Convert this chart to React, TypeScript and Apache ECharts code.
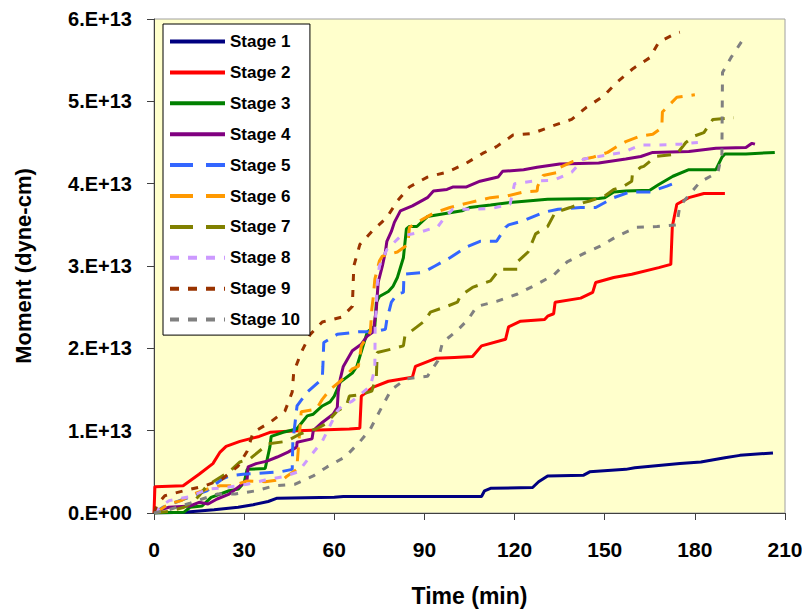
import React, { useEffect, useRef } from "react";
import * as echarts from "echarts";

// Time (min), Moment (×1e13 dyne-cm)
const stage1 = [[0,0],[10,0.01],[20,0.04],[28,0.07],[33,0.1],[38,0.14],[41,0.18],[60,0.19],[63,0.2],[109,0.2],[110,0.27],[112,0.3],[126,0.31],[128,0.38],[131,0.45],[143,0.46],[145,0.5],[157,0.53],[160,0.55],[175,0.6],[182,0.62],[190,0.67],[195,0.7],[206,0.73]];
const stage2 = [[0,0],[0.3,0.32],[9.7,0.33],[15,0.47],[19.6,0.6],[22,0.74],[24,0.81],[28.6,0.87],[35,0.93],[38.6,0.98],[47.6,1.0],[65,1.02],[68.5,1.03],[69,1.42],[73,1.53],[78,1.6],[86,1.65],[87,1.78],[94,1.88],[100,1.89],[106,1.9],[109,2.03],[117,2.11],[118,2.26],[122,2.33],[130,2.35],[131,2.39],[133,2.42],[133.5,2.56],[142,2.61],[146,2.68],[147,2.8],[153,2.86],[159,2.9],[168,2.98],[172,3.02],[172.5,3.48],[174,3.75],[178,3.83],[183,3.88],[190,3.88]];
const stage3 = [[0,0],[10,0.01],[12,0.07],[16,0.085],[19,0.19],[25,0.27],[28,0.29],[30,0.37],[31,0.53],[37,0.54],[38.6,0.81],[39,0.93],[43,0.98],[47.5,1.02],[51,1.18],[53,1.2],[56,1.3],[58.6,1.35],[60,1.42],[62,1.59],[66,1.7],[67.5,1.78],[68.5,1.9],[71,2.2],[73.5,2.27],[74,2.56],[75,2.63],[78,2.69],[79.5,2.75],[81,2.86],[83,3.1],[84,3.45],[85,3.48],[87.5,3.48],[91,3.6],[97.5,3.64],[102.5,3.67],[105,3.71],[112,3.74],[118.5,3.77],[131,3.81],[148,3.82],[150,3.83],[153,3.9],[157,3.91],[165,3.92],[168,3.99],[172.7,4.09],[178,4.17],[187,4.17],[189,4.32],[190,4.36],[197,4.36],[206.6,4.38]];
const stage4 = [[0,0],[2,0.04],[5,0.07],[12,0.085],[15,0.13],[18,0.11],[21,0.17],[25,0.23],[28.6,0.33],[31,0.41],[31.3,0.56],[34,0.6],[37.6,0.63],[41,0.68],[44.6,0.74],[47.5,0.8],[47.6,0.86],[52.6,0.9],[53,1.0],[56,1.1],[59.6,1.2],[61,1.28],[61.3,1.47],[62,1.63],[63,1.78],[66,1.97],[69,2.05],[71,2.15],[73,2.2],[73.5,2.35],[74,2.48],[74.6,2.8],[76,3.0],[77,3.17],[77.5,3.3],[79,3.42],[80,3.53],[82,3.67],[86,3.73],[91,3.83],[93,3.91],[97.5,3.93],[99.6,3.96],[104,3.96],[108.5,4.03],[114.5,4.08],[116,4.15],[123,4.17],[127.5,4.2],[135,4.24],[148,4.25],[157,4.3],[162,4.33],[166,4.38],[178,4.39],[187,4.43],[197,4.44],[199,4.49],[200,4.48]];
const stage5 = [[0,0],[3,0.07],[10,0.17],[13,0.21],[17.6,0.27],[22.6,0.41],[25,0.45],[29.6,0.47],[42,0.5],[46,0.53],[46.2,0.86],[47.6,1.3],[51,1.47],[56,1.63],[56.2,1.78],[56.5,2.07],[61,2.17],[68,2.2],[73,2.2],[77,2.23],[77.5,2.35],[79,2.56],[81,2.66],[83,2.68],[83.2,2.9],[89.5,2.92],[93.5,3.0],[98.5,3.1],[104,3.23],[108.5,3.3],[114,3.3],[117,3.47],[118,3.5],[123,3.55],[129.5,3.65],[134.5,3.69],[142,3.71],[147,3.71],[153,3.83],[158.4,3.9],[165,3.9],[170.7,3.97],[175,4.03]];
const stage6 = [[0,0],[2,0.04],[5,0.11],[9,0.15],[13,0.23],[17.6,0.29],[22,0.33],[26,0.33],[31,0.39],[37,0.38],[43,0.41],[44,0.44],[47.5,0.53],[48.5,1.0],[49,1.23],[54,1.26],[56,1.38],[58.6,1.5],[62,1.6],[66,1.75],[68,1.78],[69,2.03],[72,2.2],[72.5,2.48],[73,2.63],[73.5,2.84],[75,3.06],[76,3.12],[81,3.17],[84.5,3.26],[85,3.47],[89.5,3.57],[93.5,3.65],[98.5,3.71],[105,3.77],[112,3.83],[117.5,3.85],[123,3.9],[127.5,3.91],[127.7,3.97],[129.5,4.1],[135,4.14],[135.2,4.2],[139.5,4.27],[146,4.32],[151,4.38],[154,4.45],[157,4.51],[162,4.58],[166,4.6],[169,4.68],[169.2,4.87],[174,5.05],[180,5.08]];
const stage7 = [[0,0],[5,0.02],[10,0.07],[13,0.13],[15,0.21],[17.6,0.33],[21,0.41],[25,0.5],[28.6,0.62],[32,0.66],[33,0.69],[38,0.84],[44,0.87],[48.6,0.96],[52,1.0],[54,1.02],[57,1.08],[61,1.24],[64,1.3],[65,1.42],[69,1.44],[72.5,1.48],[74,1.66],[74.3,1.95],[79,1.99],[83,2.03],[83.5,2.15],[87.5,2.26],[90,2.33],[92,2.44],[97.5,2.51],[101,2.56],[102,2.64],[106,2.74],[112,2.82],[115,2.96],[121,2.96],[121.2,3.06],[124.5,3.17],[127,3.39],[131,3.48],[133.5,3.65],[138.5,3.71],[143,3.77],[145,3.79],[150,3.85],[153,3.93],[156,3.96],[159,4.03],[159.2,4.11],[162,4.2],[163,4.21],[167,4.33],[174,4.36],[177,4.5],[180,4.58],[183,4.62],[186,4.78],[193,4.8]];
const stage8 = [[0,0],[3,0.1],[5,0.15],[12,0.2],[18,0.29],[24,0.31],[31,0.35],[37,0.4],[43,0.44],[48,0.5],[52,0.69],[56,0.87],[61,1.24],[62.5,1.3],[66,1.36],[72,1.54],[73.5,1.75],[73.6,2.27],[74,2.51],[74.2,2.75],[75,3.0],[77.5,3.2],[82,3.36],[88.5,3.41],[94.5,3.48],[97,3.6],[99.5,3.69],[106,3.69],[112.5,3.7],[118.5,3.75],[120,4.0],[126,4.03],[133,4.04],[139,4.14],[143,4.3],[148,4.33],[156,4.38],[162,4.47],[168,4.47],[175,4.48],[181,4.5]];
const stage9 = [[0,0],[1,0.1],[3.6,0.21],[10,0.27],[17,0.33],[22.6,0.41],[28,0.57],[31,0.75],[33,0.98],[38.6,1.1],[43.6,1.24],[46,1.47],[46.5,1.71],[49,1.95],[52,2.17],[56,2.32],[62.5,2.38],[66,2.51],[66.3,2.8],[66.5,3.0],[68.5,3.26],[72.5,3.42],[77.5,3.59],[81,3.79],[85,3.96],[91,4.08],[97.5,4.14],[103.5,4.24],[109.5,4.37],[114,4.45],[119.5,4.59],[126,4.61],[132.5,4.7],[139,4.78],[144,4.93],[149.5,5.06],[154,5.23],[159.5,5.4],[165,5.53],[168,5.72],[174,5.83],[175,5.84]];
const stage10 = [[0,0],[5,0.04],[12,0.12],[21,0.23],[27,0.23],[34,0.27],[40,0.33],[47,0.35],[53,0.45],[57.6,0.56],[63.6,0.68],[68.6,0.87],[72,1.02],[76,1.3],[79,1.5],[84,1.63],[91,1.66],[94.5,1.85],[96,2.07],[101,2.22],[104.5,2.35],[107.5,2.51],[114,2.57],[121,2.66],[127,2.77],[133,2.89],[137.5,3.05],[143.5,3.16],[148.5,3.24],[154,3.36],[160.7,3.47],[167.4,3.48],[174,3.5],[175,3.73],[181.7,4.02],[187.7,4.14],[189,4.36],[189.2,5.35],[192,5.53],[196,5.75]];

const seriesNames = ["Stage 1","Stage 2","Stage 3","Stage 4","Stage 5","Stage 6","Stage 7","Stage 8","Stage 9","Stage 10"];
const seriesData = [stage1, stage2, stage3, stage4, stage5, stage6, stage7, stage8, stage9, stage10];

const colors = ["#000080","#FF0000","#008000","#800080","#3366FF","#FF9900","#808000","#CC99FF","#993300","#808080"];
const dashes: any[] = ["solid","solid","solid","solid",[14,9],[14,9],[14,9],[7,9],[7,9],[7,9]];
const legendDashes: any[] = ["solid","solid","solid","solid",[23,13],[23,13],[23,13],[9,9],[9,9],[9,9]];

const FONT = "'Liberation Sans', Arial, sans-serif";

export default function App() {
  const ref = useRef<HTMLDivElement>(null);
  useEffect(() => {
    if (!ref.current) return;
    const chart = echarts.init(ref.current, null, { renderer: "svg" });
    chart.setOption({
      animation: false,
      backgroundColor: "#ffffff",
      grid: {
        left: 154, right: 25, top: 19, bottom: 98,
        show: true, backgroundColor: "#FFFFCC", borderColor: "#A0A0A0", borderWidth: 1,
      },
      legend: {
        orient: "vertical",
        left: 163, top: 24,
        itemWidth: 55, itemHeight: 14, itemGap: 13.9,
        padding: [9, 10, 7, 5],
        backgroundColor: "#ffffff", borderColor: "#000000", borderWidth: 1,
        itemStyle: { opacity: 0 },
        textStyle: { fontFamily: FONT, fontSize: 17, fontWeight: "bold", color: "#000" },
        data: seriesNames.map((n, i) => ({
          name: n,
          lineStyle: { width: 4, type: legendDashes[i], color: colors[i] },
        })),
      },
      xAxis: {
        type: "value", min: 0, max: 210, interval: 30,
        name: "Time (min)", nameLocation: "middle", nameGap: 71,
        nameTextStyle: { fontFamily: FONT, fontSize: 23, fontWeight: "bold", color: "#000" },
        axisLine: { onZero: false, lineStyle: { color: "#404040", width: 1 } },
        axisTick: { show: true, length: 7, lineStyle: { color: "#404040" } },
        axisLabel: { margin: 26, fontFamily: FONT, fontSize: 21, fontWeight: "bold", color: "#000" },
        splitLine: { show: false },
      },
      yAxis: {
        type: "value", min: 0, max: 6, interval: 1,
        name: "Moment (dyne-cm)", nameLocation: "middle", nameGap: 120, nameRotate: 90,
        nameTextStyle: { fontFamily: FONT, fontSize: 22, fontWeight: "bold", color: "#000" },
        axisLine: { show: true, onZero: false, lineStyle: { color: "#404040", width: 1 } },
        axisTick: { show: true, length: 7, lineStyle: { color: "#404040" } },
        axisLabel: {
          margin: 22, fontFamily: FONT, fontSize: 20, fontWeight: "bold", color: "#000",
          formatter: (v: number) => (v === 0 ? "0.E+00" : `${v}.E+13`),
        },
        splitLine: { show: false },
      },
      series: seriesData.map((d, i) => ({
        name: seriesNames[i],
        type: "line",
        data: d,
        showSymbol: false,
        symbol: "none",
        lineStyle: { color: colors[i], width: 3, type: dashes[i] },
        itemStyle: { color: colors[i] },
      })),
    });
    return () => chart.dispose();
  }, []);
  return <div ref={ref} style={{ width: 810, height: 612, marginLeft: -8, marginTop: -8 }} />;
}
